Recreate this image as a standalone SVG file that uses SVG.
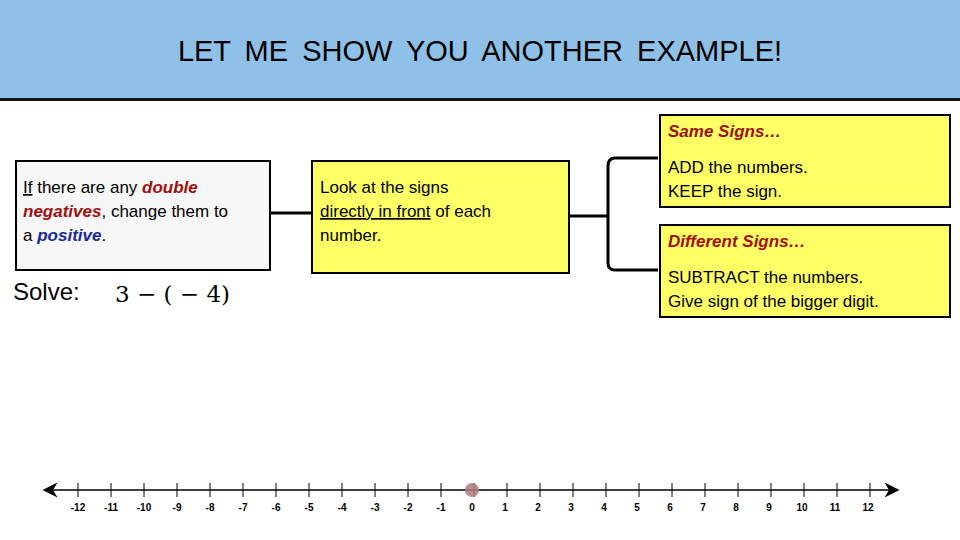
<svg xmlns="http://www.w3.org/2000/svg" width="960" height="540" viewBox="0 0 960 540">
<style>
text{font-family:"Liberation Sans",Arial,sans-serif;font-size:17px;fill:#000}
.r{fill:#a01010;font-weight:bold;font-style:italic}
.b{fill:#1a2a9a;font-weight:bold;font-style:italic}
.box{stroke:#000;stroke-width:2}
.y{fill:#ffff66}
.tk{stroke:#000;stroke-width:1}
.nl{font-size:10px;font-weight:bold;text-anchor:middle}
</style>
<defs><marker id="ah" viewBox="0 0 10 10" refX="5" refY="5" markerWidth="12" markerHeight="10" orient="auto-start-reverse"><path d="M0,0 L10,5 L0,10 L3,5z" fill="#000"/></marker></defs>
<rect x="0" y="0" width="960" height="99" fill="#8fc1e8"/>
<line x1="0" y1="99.5" x2="960" y2="99.5" stroke="#111" stroke-width="3"/>
<text x="480" y="61" text-anchor="middle" style="font-size:29px;word-spacing:6px">LET ME SHOW YOU ANOTHER EXAMPLE!</text>
<g id="connectors" fill="none" stroke="#000" stroke-width="3">
<path d="M270,213 H312"/>
<path d="M569,216 H608"/>
<path d="M658,158 H615 Q608,158 608,166 V263 Q608,270 615,270 H658"/>
</g>
<g id="rule1"><rect class="box" x="16" y="161" width="254" height="109" fill="#f7f7f7"/>
<text x="23" y="193"><tspan text-decoration="underline">If</tspan> there are any <tspan class="r">double</tspan></text>
<text x="23" y="217"><tspan class="r">negatives</tspan>, change them to</text>
<text x="23" y="241">a <tspan class="b">positive</tspan>.</text></g>
<g id="rule2"><rect class="box y" x="312" y="161" width="257" height="112"/>
<text x="320" y="193">Look at the signs</text>
<text x="320" y="217"><tspan text-decoration="underline">directly in front</tspan> of each</text>
<text x="320" y="241">number.</text></g>
<g id="same"><rect class="box y" x="660" y="115" width="290" height="92"/>
<text x="668" y="137" class="r" style="font-style:italic">Same Signs…</text>
<text x="668" y="173">ADD the numbers.</text>
<text x="668" y="197">KEEP the sign.</text></g>
<g id="diff"><rect class="box y" x="660" y="225" width="290" height="92"/>
<text x="668" y="247" class="r">Different Signs…</text>
<text x="668" y="283">SUBTRACT the numbers.</text>
<text x="668" y="307">Give sign of the bigger digit.</text></g>
<g id="solve"><text x="13" y="300" style="font-size:24px">Solve:</text>
<text x="115" y="302" style="font-family:'DejaVu Serif',serif;font-size:23px">3 − ( − 4)</text></g>
<g id="numberline">
<line x1="50" y1="490" x2="892" y2="490" stroke="#000" stroke-width="1.5" marker-start="url(#ah)" marker-end="url(#ah)"/>
<g class="tk">
<path d="M78,483V497M111,483V497M144,483V497M177,483V497M210,483V497M243,483V497M276,483V497M309,483V497M342,483V497M375,483V497M408,483V497M441,483V497M474,483V497M507,483V497M540,483V497M573,483V497M606,483V497M639,483V497M672,483V497M705,483V497M738,483V497M771,483V497M804,483V497M837,483V497M870,483V497" stroke="#000"/>
</g>
<ellipse cx="472" cy="490" rx="7" ry="7" fill="#b07a7a" opacity="0.85"/>
<g>
<text class="nl" x="78" y="511">-12</text><text class="nl" x="111" y="511">-11</text><text class="nl" x="144" y="511">-10</text><text class="nl" x="177" y="511">-9</text><text class="nl" x="210" y="511">-8</text><text class="nl" x="243" y="511">-7</text><text class="nl" x="276" y="511">-6</text><text class="nl" x="309" y="511">-5</text><text class="nl" x="342" y="511">-4</text><text class="nl" x="375" y="511">-3</text><text class="nl" x="408" y="511">-2</text><text class="nl" x="441" y="511">-1</text><text class="nl" x="472" y="511">0</text><text class="nl" x="505" y="511">1</text><text class="nl" x="538" y="511">2</text><text class="nl" x="571" y="511">3</text><text class="nl" x="604" y="511">4</text><text class="nl" x="637" y="511">5</text><text class="nl" x="670" y="511">6</text><text class="nl" x="703" y="511">7</text><text class="nl" x="736" y="511">8</text><text class="nl" x="769" y="511">9</text><text class="nl" x="802" y="511">10</text><text class="nl" x="835" y="511">11</text><text class="nl" x="868" y="511">12</text>
</g></g>
</svg>
